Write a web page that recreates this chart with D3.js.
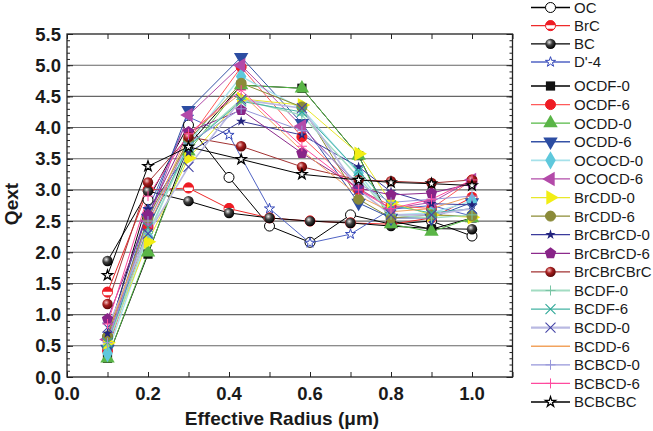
<!DOCTYPE html>
<html>
<head>
<meta charset="utf-8">
<script src="https://cdn.jsdelivr.net/npm/d3@7"></script>
<style>
  body { margin: 0; background: #fff; }
  svg { display: block; font-family: "Liberation Sans", Arial, Helvetica, sans-serif; }
</style>
</head>
<body>
<svg id="chart" width="653" height="431"></svg>
<script>
// effective radius (um) – first four series are sampled every 0.1, the rest on a coarser grid
const radiusA = [0.1, 0.2, 0.3, 0.4, 0.5, 0.6, 0.7, 0.8, 0.9, 1.0];
const radiusB = [0.1, 0.2, 0.3, 0.43, 0.58, 0.72, 0.8, 0.9, 1.0];

// Qext values
const qOC        = [0.64, 2.84, 4.04, 3.20, 2.42, 2.16, 2.60, 2.45, 2.50, 2.26];
const qBrC       = [1.36, 3.00, 3.03, 2.70, 2.55, 2.50, 2.47, 2.45, 2.55, 2.88];
const qBC        = [1.86, 2.98, 2.82, 2.63, 2.55, 2.50, 2.47, 2.42, 2.38, 2.37];
const qD4        = [0.46, 2.69, 4.17, 3.88, 2.70, 2.15, 2.29, 2.69, 2.75, 2.58];

const qOCDF0     = [0.30, 1.97, 3.72, 4.68, 4.63, 3.55, 2.50, 2.37, 2.55];
const qOCDF6     = [0.42, 2.40, 3.80, 4.97, 3.85, 3.00, 2.75, 2.70, 3.16];
const qOCDD0     = [0.30, 2.00, 3.62, 4.68, 4.63, 3.55, 2.45, 2.33, 2.55];
const qOCDD6     = [0.45, 2.55, 4.28, 5.13, 4.07, 2.79, 2.55, 2.55, 2.80];
const qOCOCD0    = [0.38, 2.25, 3.75, 4.82, 4.30, 3.27, 2.60, 2.63, 2.82];
const qOCOCD6    = [0.60, 2.50, 4.20, 5.00, 4.02, 3.03, 2.70, 2.80, 3.16];
const qBrCDD0    = [0.55, 2.17, 3.51, 4.46, 4.36, 3.58, 2.80, 2.60, 2.56];
const qBrCDD6    = [0.65, 2.55, 3.80, 4.71, 4.33, 2.85, 2.55, 2.60, 2.58];
const qBrCBrCD0  = [0.70, 2.69, 3.60, 4.10, 3.88, 3.37, 2.97, 2.78, 2.76];
const qBrCBrCD6  = [0.93, 2.60, 3.93, 4.28, 3.59, 3.03, 2.92, 2.95, 3.10];
const qBrCBrCBrC = [1.17, 3.12, 3.85, 3.70, 3.37, 3.16, 3.14, 3.11, 3.16];
const qBCDF0     = [0.50, 2.30, 3.70, 4.45, 4.20, 3.20, 2.60, 2.55, 2.60];
const qBCDF6     = [0.55, 2.40, 3.70, 4.42, 4.25, 3.30, 2.75, 2.63, 2.70];
const qBCDD0     = [0.79, 2.30, 3.37, 4.45, 4.31, 3.00, 2.60, 2.60, 2.70];
const qBCDD6     = [0.70, 2.45, 3.90, 4.55, 3.63, 2.90, 2.65, 2.70, 2.90];
const qBCBCD0    = [0.55, 2.50, 3.75, 4.30, 3.95, 3.10, 2.80, 2.85, 2.90];
const qBCBCD6    = [0.85, 2.90, 3.90, 4.60, 3.70, 3.00, 2.70, 2.85, 3.16];
const qBCBCBC    = [1.63, 3.38, 3.69, 3.49, 3.25, 3.16, 3.12, 3.10, 3.07];

const seriesNames = ["OC", "BrC", "BC", "D'-4",
  "OCDF-0", "OCDF-6", "OCDD-0", "OCDD-6", "OCOCD-0", "OCOCD-6",
  "BrCDD-0", "BrCDD-6", "BrCBrCD-0", "BrCBrCD-6", "BrCBrCBrC",
  "BCDF-0", "BCDF-6", "BCDD-0", "BCDD-6", "BCBCD-0", "BCBCD-6", "BCBCBC"];
const seriesValues = [qOC, qBrC, qBC, qD4,
  qOCDF0, qOCDF6, qOCDD0, qOCDD6, qOCOCD0, qOCOCD6,
  qBrCDD0, qBrCDD6, qBrCBrCD0, qBrCBrCD6, qBrCBrCBrC,
  qBCDF0, qBCDF6, qBCDD0, qBCDD6, qBCBCD0, qBCBCD6, qBCBCBC];

const xTickValues = [0, 0.2, 0.4, 0.6, 0.8, 1.0];
const yTickValues = [0, 0.5, 1, 1.5, 2, 2.5, 3, 3.5, 4, 4.5, 5, 5.5];

// look of every series: line colour/width and marker kind/colour
const styles = {
  "OC":        { line: "#000", lw: 1,   mk: "circle",  fill: "#fff",    stroke: "#000" },
  "BrC":       { line: "#ee2a2a", lw: 1, mk: "half",   fill: "#ee1c24", stroke: "#ee1c24" },
  "BC":        { line: "#000", lw: 1,   mk: "sphere",  fill: "url(#gBlack)" },
  "D'-4":      { line: "#5063c4", lw: 1, mk: "star",   fill: "#fff",    stroke: "#3346b8" },
  "OCDF-0":    { line: "#000", lw: 1,   mk: "square",  fill: "#111" },
  "OCDF-6":    { line: "#ff5a5a", lw: 1, mk: "circle", fill: "#ee1c24" },
  "OCDD-0":    { line: "#55b845", lw: 1, mk: "triUp",  fill: "#5ab547" },
  "OCDD-6":    { line: "#3552a6", lw: 1, mk: "triDown", fill: "#2c4da2" },
  "OCOCD-0":   { line: "#a6e1ea", lw: 1.4, mk: "diamond", fill: "#5ec8dc" },
  "OCOCD-6":   { line: "#b24ca9", lw: 1, mk: "triLeft", fill: "#b34aa9" },
  "BrCDD-0":   { line: "#e8e82a", lw: 1, mk: "triRight", fill: "#f2ee14" },
  "BrCDD-6":   { line: "#8c8c34", lw: 1, mk: "circle", fill: "#8a8a38" },
  "BrCBrCD-0": { line: "#3b3b9c", lw: 1, mk: "star",   fill: "#22237c" },
  "BrCBrCD-6": { line: "#8c2a8c", lw: 1, mk: "pentagon", fill: "#882488" },
  "BrCBrCBrC": { line: "#a23232", lw: 1, mk: "sphere", fill: "url(#gRed)" },
  "BCDF-0":    { line: "#a2dcc2", lw: 1.4, mk: "plus",  stroke: "#78c4a4" },
  "BCDF-6":    { line: "#45b3a3", lw: 1, mk: "cross",  stroke: "#2fa898" },
  "BCDD-0":    { line: "#b9b9e2", lw: 1.6, mk: "cross", stroke: "#4444a6" },
  "BCDD-6":    { line: "#f2a35e", lw: 1, mk: "none" },
  "BCBCD-0":   { line: "#9696da", lw: 1, mk: "plus",   stroke: "#9696da" },
  "BCBCD-6":   { line: "#ff4a9e", lw: 1, mk: "plus",   stroke: "#ff4a9e" },
  "BCBCBC":    { line: "#000", lw: 1,   mk: "star",    fill: "#fff",    stroke: "#000", sw: 1.3 }
};

const plot = { left: 67, right: 512.5, top: 34, bottom: 377 };

const svg = d3.select("#chart");

var x = d3.scaleLinear().domain([0, 1.1]).range([plot.left, plot.right]);
var y = d3.scaleLinear().domain([0, 5.5]).range([plot.bottom, plot.top]);

// gradients for the shaded balls
var defs = svg.append("defs");
function ball(id, hi, mid, lo) {
  var g = defs.append("radialGradient").attr("id", id)
    .attr("cx", "38%").attr("cy", "35%").attr("r", "65%");
  g.append("stop").attr("offset", "0%").attr("stop-color", hi);
  g.append("stop").attr("offset", "45%").attr("stop-color", mid);
  g.append("stop").attr("offset", "100%").attr("stop-color", lo);
}
ball("gBlack", "#e8e8e8", "#404040", "#000");
ball("gRed", "#f3c0c0", "#a82020", "#5a0808");

// horizontal grid
svg.append("g")
  .selectAll("line")
  .data(yTickValues.filter(v => v > 0 && v < 5.5))
  .join("line")
  .attr("x1", plot.left).attr("x2", plot.right)
  .attr("y1", d => y(d)).attr("y2", d => y(d))
  .attr("stroke", "#666")
  .attr("stroke-width", 1.1);

// axes with inward ticks
var minorX = d3.range(0, 1.101, 0.1);
var minorY = d3.range(0, 5.501, 0.1);

function ticks(axis, scale, vals, len) {
  var g = svg.append("g").call(axis(scale).tickValues(vals).tickSize(len).tickFormat(""));
  g.select(".domain").remove();
  g.selectAll("line").attr("stroke", "#222").attr("stroke-width", 1);
  return g;
}
ticks(d3.axisBottom, x, minorX, -5).attr("transform", `translate(0,${plot.bottom})`);
ticks(d3.axisTop, x, minorX, -5).attr("transform", `translate(0,${plot.top})`);
ticks(d3.axisLeft, y, minorY, -3).attr("transform", `translate(${plot.left},0)`);
ticks(d3.axisLeft, y, yTickValues, -6).attr("transform", `translate(${plot.left},0)`);
ticks(d3.axisRight, y, minorY, -3).attr("transform", `translate(${plot.right},0)`);
ticks(d3.axisRight, y, yTickValues, -6).attr("transform", `translate(${plot.right},0)`);

svg.append("rect")
  .attr("x", plot.left).attr("y", plot.top)
  .attr("width", plot.right - plot.left).attr("height", plot.bottom - plot.top)
  .attr("fill", "none").attr("stroke", "#222").attr("stroke-width", 1.3);

// tick labels
svg.append("g").selectAll("text")
  .data(xTickValues).join("text")
  .attr("x", d => x(d)).attr("y", 400)
  .attr("text-anchor", "middle")
  .style("font-size", "18.5px").style("font-weight", "bold").attr("fill", "#1a1a1a")
  .text(d => d3.format(".1f")(d));

svg.append("g").selectAll("text")
  .data(yTickValues).join("text")
  .attr("x", 61).attr("y", d => y(d) + 6.5)
  .attr("text-anchor", "end")
  .style("font-size", "18.5px").style("font-weight", "bold").attr("fill", "#1a1a1a")
  .text(d => d3.format(".1f")(d));

// axis titles
svg.append("text")
  .attr("x", 282).attr("y", 425)
  .attr("text-anchor", "middle")
  .style("font-size", "19px").style("font-weight", "bold").attr("fill", "#1a1a1a")
  .text("Effective Radius (\u03bcm)");

svg.append("text")
  .attr("transform", "translate(18,204) rotate(-90)")
  .attr("text-anchor", "middle")
  .style("font-size", "19px").style("font-weight", "bold").attr("fill", "#1a1a1a")
  .text("Qext");

// marker drawing
function pentagonPath(r) {
  var pts = d3.range(5).map(i => {
    var a = -Math.PI / 2 + i * 2 * Math.PI / 5;
    return [r * Math.cos(a), r * Math.sin(a)];
  });
  return "M" + pts.join("L") + "Z";
}

function drawMarker(g, st) {
  switch (st.mk) {
    case "circle":
      g.append("circle").attr("r", 5).attr("fill", st.fill)
        .attr("stroke", st.stroke || st.fill).attr("stroke-width", 1);
      break;
    case "sphere":
      g.append("circle").attr("r", 5.2).attr("fill", st.fill);
      break;
    case "half":
      g.append("circle").attr("r", 5).attr("fill", "#fff")
        .attr("stroke", st.stroke).attr("stroke-width", 1);
      g.append("path").attr("d", "M-5,-0.5A5,5 0 0 1 5,-0.5Z").attr("fill", st.fill);
      g.append("path").attr("d", "M-4,3A5,5 0 0 0 4,3Z").attr("fill", st.fill);
      break;
    case "square":
      g.append("path").attr("d", d3.symbol(d3.symbolSquare, 85)()).attr("fill", st.fill);
      break;
    case "diamond":
      g.append("path").attr("d", d3.symbol(d3.symbolDiamond, 95)()).attr("fill", st.fill);
      break;
    case "triUp":
    case "triDown":
    case "triLeft":
    case "triRight":
      var rot = { triUp: 0, triDown: 180, triLeft: -90, triRight: 90 }[st.mk];
      g.append("path").attr("d", d3.symbol(d3.symbolTriangle, 90)())
        .attr("transform", `rotate(${rot})`).attr("fill", st.fill);
      break;
    case "star":
      g.append("path").attr("d", d3.symbol(d3.symbolStar, 32)())
        .attr("fill", st.fill).attr("stroke", st.stroke || "none")
        .attr("stroke-width", st.sw || 1);
      break;
    case "pentagon":
      g.append("path").attr("d", pentagonPath(6)).attr("fill", st.fill);
      break;
    case "plus":
      g.append("path").attr("d", "M-5,0H5M0,-5V5")
        .attr("stroke", st.stroke).attr("stroke-width", 1).attr("fill", "none");
      break;
    case "cross":
      g.append("path").attr("d", "M-5,-5L5,5M-5,5L5,-5")
        .attr("stroke", st.stroke).attr("stroke-width", 1.1).attr("fill", "none");
      break;
  }
}

var series = seriesNames.map((name, i) => ({
  name: name,
  style: styles[name],
  points: seriesValues[i].map((v, j) => ({ r: (i < 4 ? radiusA : radiusB)[j], q: v }))
}));

var line = d3.line().x(d => x(d.r)).y(d => y(d.q));

// lines first, then markers on top
svg.append("g").selectAll("path")
  .data(series).join("path")
  .attr("d", d => line(d.points))
  .attr("fill", "none")
  .attr("stroke", d => d.style.line)
  .attr("stroke-width", d => d.style.lw);

var markers = svg.append("g");
series.forEach(s => {
  if (s.style.mk === "none") return;
  s.points.forEach(p => {
    var g = markers.append("g").attr("transform", `translate(${x(p.r)},${y(p.q)})`);
    drawMarker(g, s.style);
  });
});

// legend
var legendY = d3.scaleLinear().domain([0, 3]).range([7.5, 62]);
var legendY2 = d3.scaleLinear().domain([4, 21]).range([86, 402]);

var legend = svg.append("g");
series.forEach((s, i) => {
  var ly = i < 4 ? legendY(i) : legendY2(i);
  var g = legend.append("g").attr("transform", `translate(0,${ly})`);
  g.append("line").attr("x1", 531).attr("x2", 570)
    .attr("stroke", s.style.line).attr("stroke-width", Math.max(1, s.style.lw * 1.3));
  var m = g.append("g").attr("transform", "translate(550.5,0)");
  if (s.style.mk !== "none") drawMarker(m, s.style);
  g.append("text").attr("x", 574).attr("y", 5.4)
    .style("font-size", "15px").attr("fill", "#1a1a1a")
    .text(s.name);
});
</script>
</body>
</html>
